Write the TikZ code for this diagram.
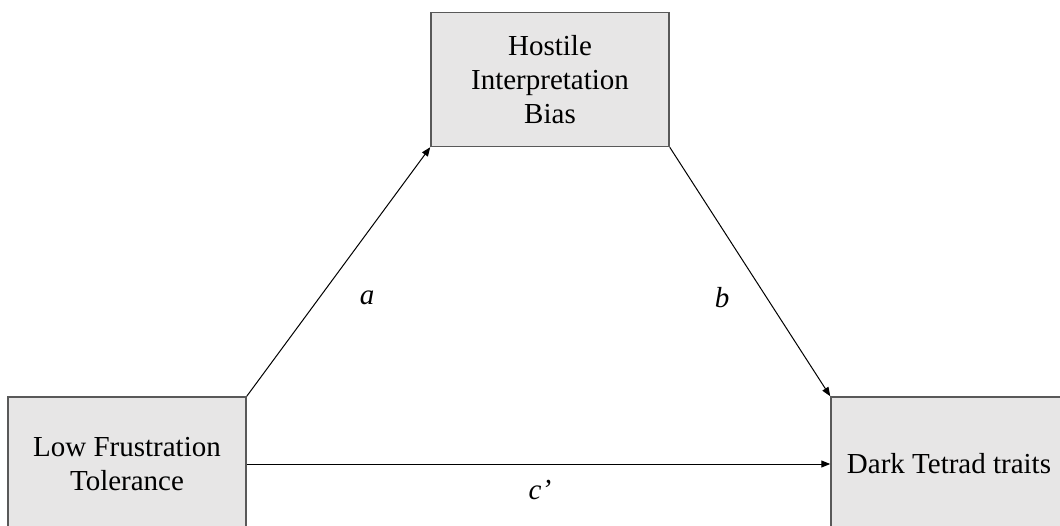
\documentclass[tikz,border=0pt]{standalone}
\usepackage{fontspec}
\setmainfont{Liberation Serif}
\usetikzlibrary{arrows.meta}
\definecolor{boxfill}{HTML}{E7E6E6}
\definecolor{boxline}{HTML}{595959}
\begin{document}
\begin{tikzpicture}[x=1pt,y=-1pt,
  vbox/.style={draw=boxline, line width=1.5pt, fill=boxfill, rectangle, minimum width=238pt, minimum height=134pt, inner sep=0pt, align=center, font=\fontsize{29}{34}\selectfont},
  conn/.style={line width=1pt, -{Triangle[length=9pt,width=7pt]}},
  lbl/.style={font=\fontsize{29}{34}\selectfont\itshape}]
\useasboundingbox (0,0) rectangle (1060,526);
\node[vbox] (top) at (550,79.5) {Hostile\\Interpretation\\Bias};
\node[vbox] (left) at (127,464) {Low Frustration\\Tolerance};
\node[vbox, minimum width=236pt] (right) at (949,464) {Dark Tetrad traits};
\draw[conn] (left.north east) -- (top.south west);
\draw[conn] (top.south east) -- (right.north west);
\draw[conn] (left.east) -- (right.west);
\node[lbl] (la) at (367,298) {a};
\node[lbl] (lb) at (722,298) {b};
\node[lbl] (lc) at (540,490) {c’};
\end{tikzpicture}
\end{document}
